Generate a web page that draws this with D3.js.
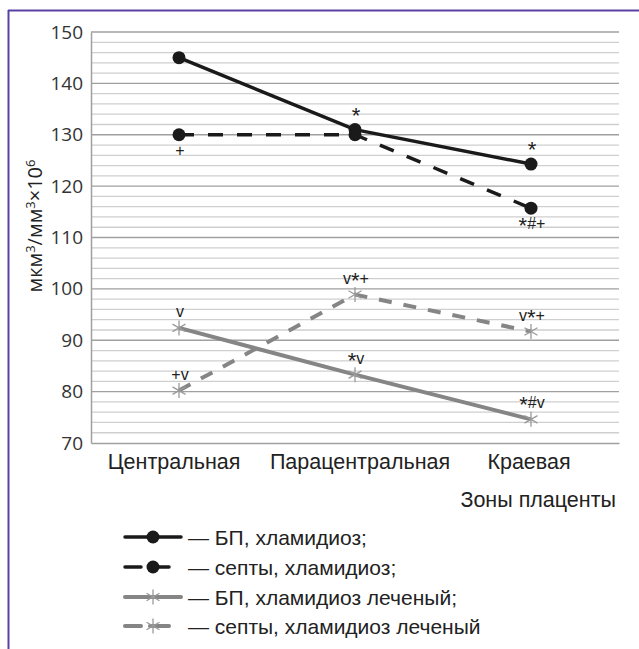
<!DOCTYPE html>
<html>
<head>
<meta charset="utf-8">
<script src="https://cdn.jsdelivr.net/npm/d3@7"></script>
<style>
  body { margin: 0; background: #fff; }
  svg { display: block; }
</style>
</head>
<body>
<svg id="svg"></svg>
<script>
  // data
  let zones = ['Центральная', 'Парацентральная', 'Краевая']
  let bpChl = [145, 131, 124.3]
  let septChl = [130, 130, 115.7]
  let bpTreated = [92.4, 83.3, 74.6]
  let septTreated = [80.2, 98.9, 91.7]
  let bpChlMarks = ['', '*', '*']
  let septChlMarks = ['+', '', '*#+']
  let bpTreatedMarks = ['v', '*v', '*#v']
  let septTreatedMarks = ['+v', 'v*+', 'v*+']
  let yTicks = [70, 80, 90, 100, 110, 120, 130, 140, 150]
  let legendLabels = ['— БП, хламидиоз;', '— септы, хламидиоз;', '— БП, хламидиоз леченый;', '— септы, хламидиоз леченый']

  let width = 639, height = 649
  let margin = {top: 32, left: 91, bottom: 206, right: 20}
  let svg = d3.select('#svg').attr('width', width).attr('height', height)

  // frame (top & left edges only visible)
  svg.append('line').attr('x1', 8).attr('x2', width).attr('y1', 10.5).attr('y2', 10.5)
     .attr('stroke', '#5b40a3').attr('stroke-width', 2)
  svg.append('line').attr('x1', 8.5).attr('x2', 8.5).attr('y1', 10).attr('y2', height)
     .attr('stroke', '#5b40a3').attr('stroke-width', 2)

  let xScale = d3.scaleBand().domain(zones).range([margin.left, width - margin.right])
  let cx = d => xScale(d) + xScale.bandwidth() / 2
  let yScale = d3.scaleLinear().domain([70, 150]).range([height - margin.bottom, margin.top])

  //gridlines
  let grid = svg.append('g')
  d3.range(72, 151, 2).forEach(v => {
    let major = v % 10 === 0
    grid.append('line')
      .attr('x1', margin.left).attr('x2', width - margin.right)
      .attr('y1', yScale(v)).attr('y2', yScale(v))
      .attr('stroke', major ? '#a0a0a0' : '#cfcfcf').attr('stroke-width', 1.3)
  })

  // y axis
  let yAxis = d3.axisLeft(yScale).tickValues(yTicks).tickSize(0).tickPadding(8)
  let yGroup = svg.append('g').attr('transform', `translate(${margin.left},0)`).call(yAxis)
  yGroup.select('.domain').attr('stroke', '#a0a0a0').attr('stroke-width', 1.5)
  yGroup.selectAll('.tick text').attr('font-family', 'Open Sans').attr('font-size', 19).attr('fill', '#333')

  // x axis
  let xAxis = d3.axisBottom(xScale).tickSize(0).tickPadding(11)
  let xGroup = svg.append('g').attr('transform', `translate(0,${height - margin.bottom})`).call(xAxis)
  xGroup.select('.domain').attr('stroke', '#a0a0a0').attr('stroke-width', 1.5)
  xGroup.selectAll('.tick text').attr('font-family', 'Liberation Sans').attr('font-size', 21.5).attr('fill', '#222')
    .attr('dx', (d, i) => [-5, 5, -2][i])

  svg.append('text').attr('x', 616).attr('y', 507).attr('text-anchor', 'end')
     .attr('font-family', 'Liberation Sans').attr('font-size', 21.5).attr('fill', '#222')
     .text('Зоны плаценты')

  // y label
  let yl = svg.append('text').attr('transform', 'translate(42,226) rotate(-90)')
     .attr('text-anchor', 'middle').attr('font-family', 'Open Sans').attr('font-size', 20).attr('fill', '#222')
  yl.append('tspan').text('мкм')
  yl.append('tspan').attr('dy', -7).attr('font-size', 13).text('3')
  yl.append('tspan').attr('dy', 7).text('/мм')
  yl.append('tspan').attr('dy', -7).attr('font-size', 13).text('3')
  yl.append('tspan').attr('dy', 7).text('×10')
  yl.append('tspan').attr('dy', -7).attr('font-size', 13).text('6')

  let series = [
    {vals: bpChl, marks: bpChlMarks, color: '#1a1a1a', w: 3.5, dash: null, marker: 'dot', pos: ['', 'up', 'up']},
    {vals: septChl, marks: septChlMarks, color: '#1a1a1a', w: 3.5, dash: '15,14', marker: 'dot', pos: ['down', '', 'down']},
    {vals: bpTreated, marks: bpTreatedMarks, color: '#858585', w: 4, dash: null, marker: 'star', pos: ['up', 'up', 'up']},
    {vals: septTreated, marks: septTreatedMarks, color: '#858585', w: 4, dash: '13,12', marker: 'star', pos: ['up', 'up', 'up']}
  ]

  let line = d3.line().x((d, i) => cx(zones[i])).y(d => yScale(d))

  let drawMarker = (g, type, x, y) => {
    if (type === 'dot') {
      g.append('circle').attr('cx', x).attr('cy', y).attr('r', 6.5).attr('fill', '#1a1a1a')
    } else {
      let r = 7.5
      ;[0, 60, 120].forEach(a => {
        let rad = a * Math.PI / 180
        g.append('line')
          .attr('x1', x - r * Math.sin(rad)).attr('y1', y - r * Math.cos(rad))
          .attr('x2', x + r * Math.sin(rad)).attr('y2', y + r * Math.cos(rad))
          .attr('stroke', '#9a9a9a').attr('stroke-width', 1.3)
      })
    }
  }

  // annotation text: asterisks drawn larger
  let annotate = (g, x, y, str) => {
    let t = g.append('text').attr('x', x).attr('y', y)
      .attr('text-anchor', 'middle').attr('font-family', 'Liberation Sans').attr('font-size', 16).attr('fill', '#222')
    str.split('').forEach(ch => {
      if (ch === '*') t.append('tspan').attr('font-size', 22).attr('dy', 4).text(ch)
      else t.append('tspan').attr('font-size', 16).attr('dy', t.selectAll('tspan').size() && t.text().endsWith('*') ? -4 : 0).text(ch)
    })
  }

  series.forEach(s => {
    svg.append('path').datum(s.vals).attr('d', line)
      .attr('fill', 'none').attr('stroke', s.color).attr('stroke-width', s.w)
      .attr('stroke-dasharray', s.dash)
    let g = svg.append('g')
    s.vals.forEach((v, i) => {
      drawMarker(g, s.marker, cx(zones[i]), yScale(v))
      if (s.marks[i]) {
        let dy = s.pos[i] === 'up' ? -11 : 21
        annotate(g, cx(zones[i]) + 1, yScale(v) + dy, s.marks[i])
      }
    })
  })

  // legend
  let legendY = [537, 567, 597, 626]
  series.forEach((s, i) => {
    let y = legendY[i]
    let g = svg.append('g')
    if (s.dash) {
      g.append('line').attr('x1', 125).attr('x2', 141).attr('y1', y).attr('y2', y)
        .attr('stroke', s.color).attr('stroke-width', s.w).attr('stroke-linecap', 'round')
      g.append('line').attr('x1', 150).attr('x2', 169).attr('y1', y).attr('y2', y)
        .attr('stroke', s.color).attr('stroke-width', s.w).attr('stroke-linecap', 'round')
    } else {
      g.append('line').attr('x1', 125).attr('x2', 181).attr('y1', y).attr('y2', y)
        .attr('stroke', s.color).attr('stroke-width', s.w).attr('stroke-linecap', 'round')
    }
    drawMarker(g, s.marker, 153, y)
    g.append('text').attr('x', 188).attr('y', y + 7.5)
      .attr('font-family', 'Liberation Sans').attr('font-size', 21).attr('fill', '#222')
      .text(legendLabels[i])
  })
</script>
</body>
</html>
